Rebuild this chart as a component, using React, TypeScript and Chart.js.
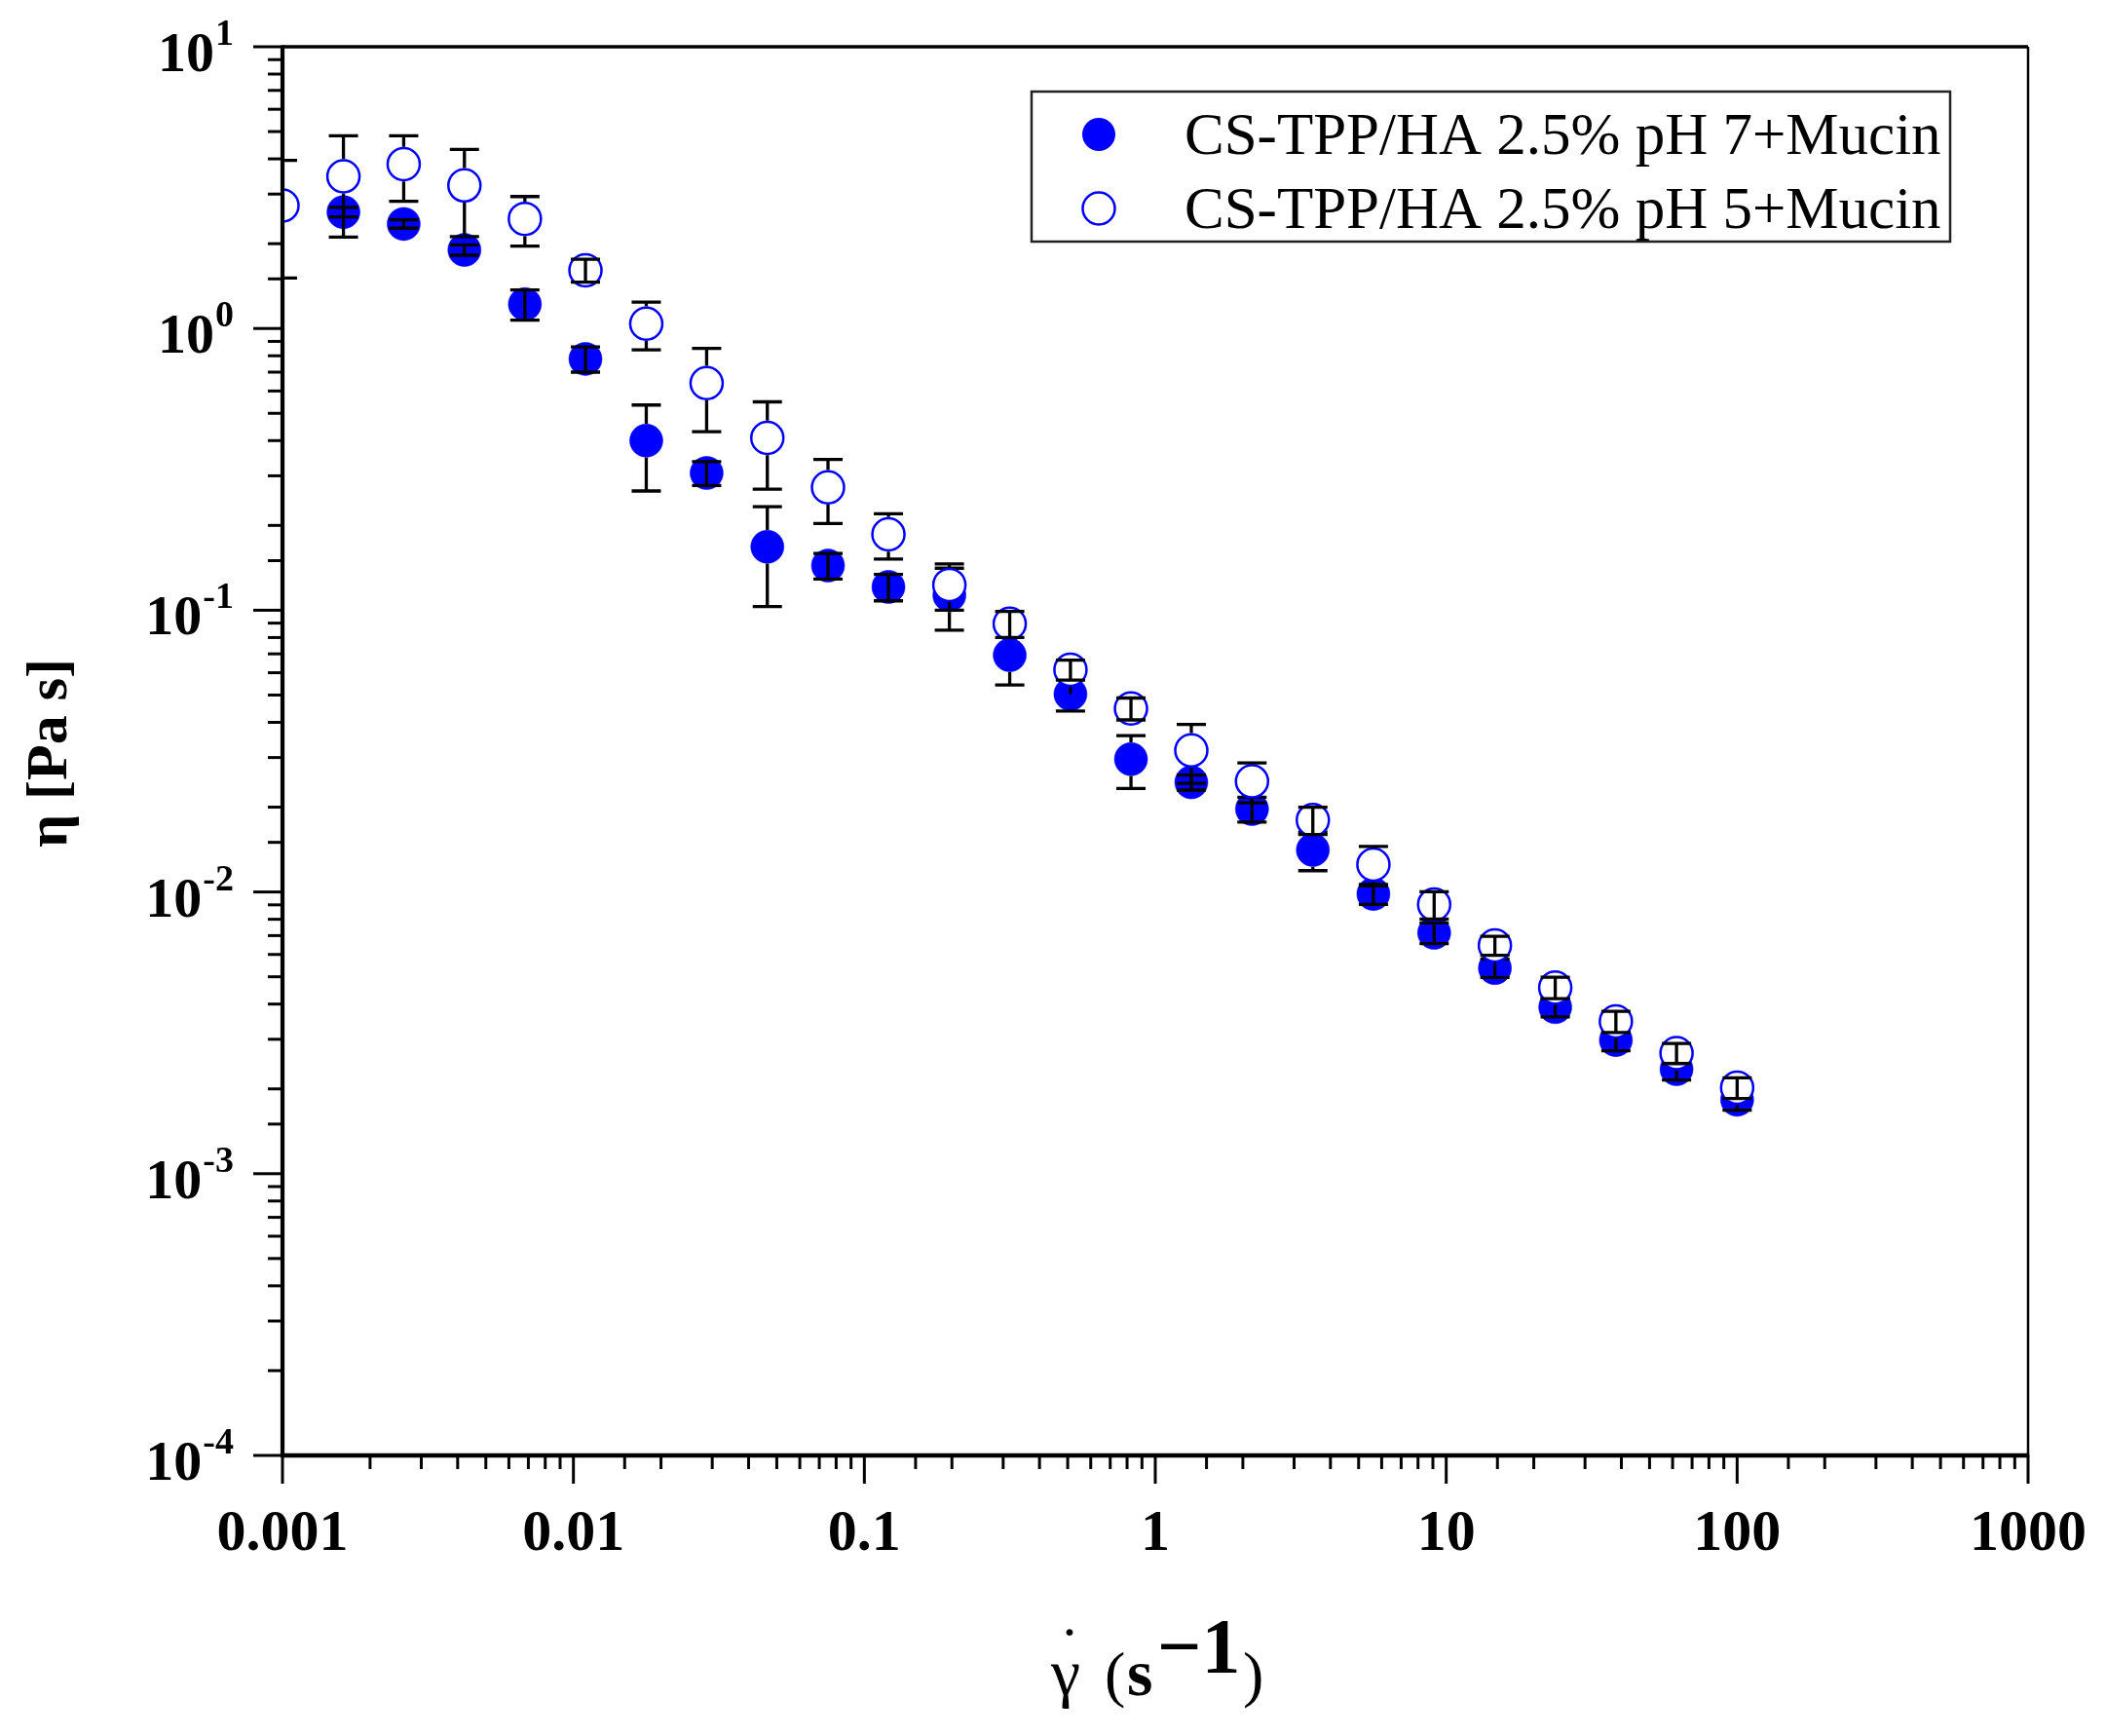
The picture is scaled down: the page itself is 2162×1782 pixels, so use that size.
import React, { useEffect, useRef } from 'react';
import { Chart, registerables } from 'chart.js';

Chart.register(...registerables);

// ---------- data ----------
const shearRate = [
  0.001, 0.00162, 0.00261, 0.00422, 0.00681, 0.011, 0.0178, 0.0287, 0.0464, 0.075,
  0.121, 0.196, 0.316, 0.511, 0.825, 1.33, 2.15, 3.48, 5.62, 9.09,
  14.7, 23.7, 38.3, 61.9, 100,
];

const etaPH7 = [
  null, 2.59, 2.35, 1.9, 1.22, 0.78, 0.4, 0.307, 0.168, 0.144,
  0.121, 0.113, 0.0693, 0.0504, 0.0296, 0.0245, 0.0197, 0.0141, 0.00984, 0.00716,
  0.00537, 0.0039, 0.00298, 0.00235, 0.00183,
];
const errPH7 = [
  null, 0.1, 0.08, 0.08, 0.15, 0.08, 0.135, 0.03, 0.065, 0.015,
  0.013, 0.028, 0.015, 0.0065, 0.0063, 0.0015, 0.002, 0.0022, 0.0008, 0.0006,
  0.0004, 0.0003, 0.00025, 0.0002, 0.00015,
];

const etaPH5 = [
  2.73, 3.47, 3.83, 3.22, 2.45, 1.61, 1.04, 0.64, 0.409, 0.273,
  0.186, 0.123, 0.0895, 0.0615, 0.0448, 0.0318, 0.0247, 0.018, 0.0125, 0.00902,
  0.00646, 0.00458, 0.00347, 0.00268, 0.00202,
];
const errPH5 = [
  1.22, 1.36, 1.0, 1.1, 0.49, 0.15, 0.2, 0.21, 0.14, 0.07,
  0.034, 0.023, 0.0095, 0.005, 0.004, 0.0075, 0.004, 0.002, 0.002, 0.001,
  0.0005, 0.0004, 0.0003, 0.00022, 0.00017,
];

const seriesLabels = ['CS-TPP/HA 2.5% pH 7+Mucin', 'CS-TPP/HA 2.5% pH 5+Mucin'];
const xTickValues = [0.001, 0.01, 0.1, 1, 10, 100, 1000];
const xTickLabels = ['0.001', '0.01', '0.1', '1', '10', '100', '1000'];
const yTickValues = [10, 1, 0.1, 0.01, 0.001, 0.0001];
const yTickExponents = ['1', '0', '-1', '-2', '-3', '-4'];
const yTitle = 'η [Pa s]';

// ---------- style ----------
const BLUE = '#0000ff';
const SERIF = '"Liberation Serif", "Times New Roman", serif';

const isMajor = (v: number) => {
  const l = Math.log10(v);
  return Math.abs(l - Math.round(l)) < 1e-6;
};

const errorBarPlugin = {
  id: 'errorBars',
  afterDatasetDraw(chart: any, args: any) {
    const ds = chart.data.datasets[args.index];
    if (!ds || !ds.data) return;
    const xs = chart.scales.x;
    const ys = chart.scales.y;
    const area = chart.chartArea;
    const ctx = chart.ctx;
    const r = (ds.pointRadius || 0) + (ds.pointBorderWidth || 0) / 2;
    ctx.save();
    ctx.beginPath();
    ctx.rect(area.left, area.top, area.right - area.left, area.bottom - area.top);
    ctx.clip();
    ctx.strokeStyle = '#000';
    ctx.lineWidth = 3.3;
    ctx.lineCap = 'butt';
    const half = 15;
    ds.data.forEach((p: any) => {
      if (!p || p.y == null || p.e == null) return;
      const px = xs.getPixelForValue(p.x);
      const py = ys.getPixelForValue(p.y);
      const top = ys.getPixelForValue(p.y + p.e);
      const lo = p.y - p.e;
      const bot = lo > 0 ? ys.getPixelForValue(lo) : area.bottom;
      ctx.beginPath();
      if (py - top > r) {
        ctx.moveTo(px, top);
        ctx.lineTo(px, py - r);
      } else {
        ctx.moveTo(px, top);
        ctx.lineTo(px, py);
      }
      if (bot - py > r) {
        ctx.moveTo(px, py + r);
        ctx.lineTo(px, bot);
      } else {
        ctx.moveTo(px, py);
        ctx.lineTo(px, bot);
      }
      ctx.moveTo(px - half, top);
      ctx.lineTo(px + half, top);
      ctx.moveTo(px - half, bot);
      ctx.lineTo(px + half, bot);
      ctx.stroke();
    });
    ctx.restore();
  },
};

const framePlugin = {
  id: 'frame',
  afterDraw(chart: any) {
    const ctx = chart.ctx;
    const area = chart.chartArea;
    const xs = chart.scales.x;
    const ys = chart.scales.y;
    ctx.save();
    ctx.strokeStyle = '#000';
    ctx.fillStyle = '#000';
    ctx.lineCap = 'butt';

    // frame
    ctx.lineWidth = 3.3;
    ctx.beginPath();
    ctx.moveTo(area.left, area.top);
    ctx.lineTo(area.right, area.top);
    ctx.stroke();
    ctx.lineWidth = 2.5;
    ctx.beginPath();
    ctx.moveTo(area.right, area.top);
    ctx.lineTo(area.right, area.bottom);
    ctx.stroke();

    // y ticks
    ctx.lineWidth = 3;
    ys.ticks.forEach((t: any) => {
      const py = ys.getPixelForValue(t.value);
      const len = isMajor(t.value) ? 30 : 15;
      ctx.beginPath();
      ctx.moveTo(area.left - len, py);
      ctx.lineTo(area.left, py);
      ctx.stroke();
    });
    // x ticks
    xs.ticks.forEach((t: any) => {
      const px = xs.getPixelForValue(t.value);
      const len = isMajor(t.value) ? 29 : 14;
      ctx.beginPath();
      ctx.moveTo(px, area.bottom);
      ctx.lineTo(px, area.bottom + len);
      ctx.stroke();
    });

    // axis lines
    ctx.lineWidth = 4.2;
    ctx.beginPath();
    ctx.moveTo(area.left, area.top - 1.6);
    ctx.lineTo(area.left, area.bottom);
    ctx.stroke();
    ctx.lineWidth = 4.6;
    ctx.beginPath();
    ctx.moveTo(area.left - 2, area.bottom);
    ctx.lineTo(area.right + 1.2, area.bottom);
    ctx.stroke();

    // x tick labels
    ctx.font = `bold 60px ${SERIF}`;
    ctx.textAlign = 'center';
    ctx.textBaseline = 'alphabetic';
    xTickValues.forEach((v, i) => {
      ctx.fillText(xTickLabels[i], xs.getPixelForValue(v), area.bottom + 97);
    });

    // y tick labels 10^n
    const supRight = area.left - 50;
    yTickValues.forEach((v, i) => {
      const py = ys.getPixelForValue(v);
      ctx.textAlign = 'right';
      ctx.textBaseline = 'alphabetic';
      ctx.font = `bold 38px ${SERIF}`;
      const supText = yTickExponents[i];
      const w = ctx.measureText(supText).width;
      ctx.fillText(supText, supRight, py - 2);
      ctx.font = `bold 58px ${SERIF}`;
      ctx.fillText('10', supRight - w - 1, py + 25);
    });

    // y title
    ctx.save();
    ctx.translate(52, (area.top + area.bottom) / 2 + 2);
    ctx.rotate(-Math.PI / 2);
    ctx.font = `bold 60px ${SERIF}`;
    ctx.textAlign = 'center';
    ctx.textBaseline = 'middle';
    ctx.fillText(yTitle, 0, 0);
    ctx.restore();

    // x title: gamma-dot (s^-1)
    const cx = (area.left + area.right) / 2;
    const yb = area.bottom + 246;
    ctx.textAlign = 'left';
    ctx.textBaseline = 'alphabetic';
    ctx.font = `68px ${SERIF}`;
    ctx.fillText('γ', cx - 107, yb);
    ctx.textAlign = 'center';
    ctx.font = `64px ${SERIF}`;
    ctx.fillText('˙', cx - 88, yb - 26);
    ctx.textAlign = 'left';
    ctx.font = `64px ${SERIF}`;
    ctx.fillText('(', cx - 52, yb);
    ctx.font = `bold 68px ${SERIF}`;
    ctx.fillText('s', cx - 29, yb);
    ctx.font = `bold 80px ${SERIF}`;
    ctx.fillText('−1', cx + 2, yb - 23);
    ctx.font = `64px ${SERIF}`;
    ctx.fillText(')', cx + 90, yb);

    // legend
    const bx = area.left + 769;
    const by = area.top + 46;
    const bw = 943;
    const bh = 154;
    ctx.lineWidth = 2.5;
    ctx.strokeStyle = '#222';
    ctx.strokeRect(bx, by, bw, bh);
    const rows = [by + 44, by + 120];
    const mx = bx + 69;
    // filled
    ctx.beginPath();
    ctx.arc(mx, rows[0], 17, 0, Math.PI * 2);
    ctx.fillStyle = BLUE;
    ctx.fill();
    // open
    ctx.beginPath();
    ctx.arc(mx, rows[1], 16.5, 0, Math.PI * 2);
    ctx.fillStyle = '#fff';
    ctx.fill();
    ctx.lineWidth = 2.5;
    ctx.strokeStyle = BLUE;
    ctx.stroke();
    ctx.fillStyle = '#000';
    ctx.font = `61px ${SERIF}`;
    ctx.textAlign = 'left';
    ctx.textBaseline = 'alphabetic';
    seriesLabels.forEach((s, i) => {
      ctx.fillText(s, bx + 157, rows[i] + 20);
    });

    ctx.restore();
  },
};

export default function App() {
  const canvasRef = useRef<HTMLCanvasElement | null>(null);

  useEffect(() => {
    document.body.style.margin = '0';
    const canvas = canvasRef.current;
    if (!canvas) return;

    const filled = shearRate
      .map((x, i) => ({ x, y: etaPH7[i], e: errPH7[i] }))
      .filter((p) => p.y != null);
    const open = shearRate.map((x, i) => ({ x, y: etaPH5[i], e: errPH5[i] }));

    const chart = new Chart(canvas, {
      type: 'scatter',
      data: {
        datasets: [
          {
            label: seriesLabels[0],
            data: filled as any,
            pointRadius: 17,
            pointBackgroundColor: BLUE,
            pointBorderColor: BLUE,
            pointBorderWidth: 0.5,
            showLine: false,
            order: 2,
            clip: 0,
          } as any,
          {
            label: seriesLabels[1],
            data: open as any,
            pointRadius: 16.5,
            pointBackgroundColor: '#ffffff',
            pointBorderColor: BLUE,
            pointBorderWidth: 2.5,
            showLine: false,
            order: 1,
            clip: 0,
          } as any,
        ],
      },
      options: {
        animation: false,
        responsive: false,
        devicePixelRatio: 1,
        events: [],
        layout: { padding: { top: 48, right: 80, left: 0, bottom: 0 } },
        plugins: {
          legend: { display: false },
          tooltip: { enabled: false },
          title: { display: false },
        },
        scales: {
          x: {
            type: 'logarithmic',
            min: 0.001,
            max: 1000,
            grid: { display: false },
            border: { display: false },
            ticks: { display: false, autoSkip: false },
            afterFit: (s: any) => {
              s.height = 288;
            },
          },
          y: {
            type: 'logarithmic',
            min: 0.0001,
            max: 10,
            grid: { display: false },
            border: { display: false },
            ticks: { display: false, autoSkip: false },
            afterFit: (s: any) => {
              s.width = 290;
            },
          },
        },
      } as any,
      plugins: [errorBarPlugin, framePlugin],
    });

    return () => {
      chart.destroy();
    };
  }, []);

  return (
    <div style={{ width: 2162, height: 1782, background: '#fff' }}>
      <canvas ref={canvasRef} width={2162} height={1782} />
    </div>
  );
}
